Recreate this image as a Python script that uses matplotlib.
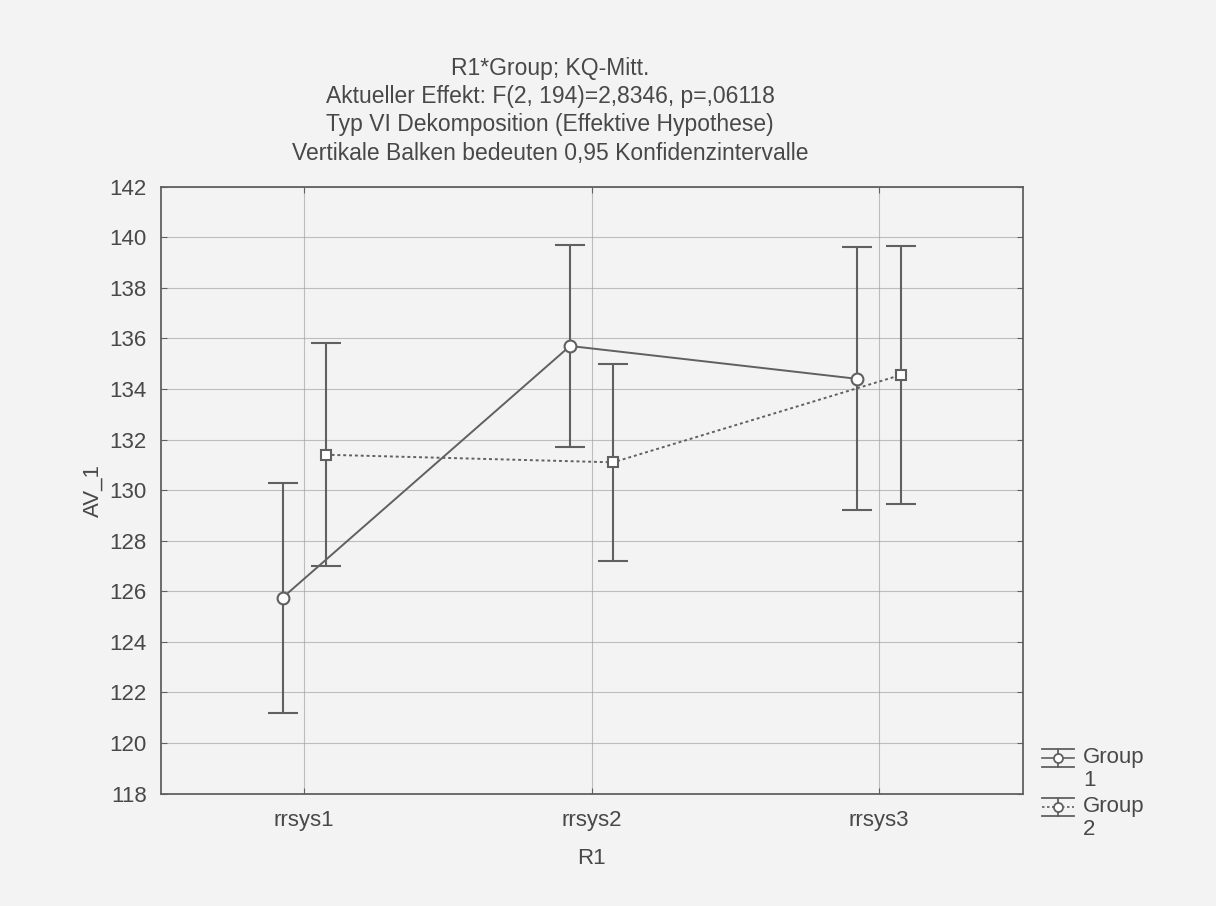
import matplotlib
matplotlib.use("Agg")
import matplotlib.pyplot as plt
from matplotlib.lines import Line2D
import numpy as np

plt.rcParams["font.family"] = ["Liberation Sans", "DejaVu Sans"]

# cell means and 0.95 confidence half-widths
categories = ["rrsys1", "rrsys2", "rrsys3"]
group1_mean = [125.75, 135.7, 134.4]
group1_ci = [4.55, 4.0, 5.2]
group2_mean = [131.4, 131.1, 134.55]
group2_ci = [4.4, 3.9, 5.1]
group_labels = ["Group\n1", "Group\n2"]

title_lines = [
    "R1*Group; KQ-Mitt.",
    "Aktueller Effekt: F(2, 194)=2,8346, p=,06118",
    "Typ VI Dekomposition (Effektive Hypothese)",
    "Vertikale Balken bedeuten 0,95 Konfidenzintervalle",
]

bg = "#f3f3f4"
ink = "#606060"
text_col = "#484848"
fs = 16

fig = plt.figure(figsize=(12.16, 9.06), dpi=100, facecolor=bg)
ax = fig.add_axes([0.132, 0.124, 0.709, 0.670], facecolor=bg)

x = np.arange(len(categories))
offset = 0.075
styles = [
    dict(mean=group1_mean, ci=group1_ci, dx=-offset, ls="-", marker="o", ms=8.5),
    dict(mean=group2_mean, ci=group2_ci, dx=offset, ls=(0, (1.5, 1.5)), marker="s", ms=7.5),
]
for st in styles:
    cont = ax.errorbar(x + st["dx"], st["mean"], yerr=st["ci"], color=ink, lw=1.4,
                       linestyle=st["ls"], marker=st["marker"], markersize=st["ms"],
                       mfc="white", mec=ink, mew=1.5, capsize=11, capthick=1.5,
                       elinewidth=1.5, zorder=3)
    cont[2][0].set_linestyle("-")

ax.set_xlim(-0.5, 2.5)
ax.set_ylim(118, 142)
ax.set_yticks(np.arange(118, 143, 2))
ax.set_xticks(x)
ax.set_xticklabels(categories)
ax.tick_params(axis="both", colors=text_col, labelsize=fs, length=4, direction="in",
               color=ink, top=True, right=True)
ax.tick_params(axis="x", pad=12)
ax.tick_params(axis="y", pad=10)
ax.grid(True, color="#9a9a9a", lw=0.8, alpha=0.6)
ax.set_axisbelow(True)
for s in ax.spines.values():
    s.set_color(ink)
    s.set_linewidth(1.3)

ax.set_xlabel("R1", fontsize=fs, color=text_col, labelpad=12)
ax.set_ylabel("AV_1", fontsize=fs, color=text_col, labelpad=4)

for i, line in enumerate(title_lines):
    fig.text(550 / 1216, 1 - (68 + 28.5 * i) / 906, line, ha="center", va="center",
             fontsize=16.5, color=text_col)

# legend: error-bar glyph beside a two-line label (pixel units, y down)
lax = fig.add_axes([1036 / 1216, 46 / 906, 170 / 1216, 120 / 906], facecolor="none")
lax.set_xlim(0, 170)
lax.set_ylim(120, 0)
lax.axis("off")
for i, st in enumerate(styles):
    yc = 18 + 49 * i
    for dy in (-9, 9):
        lax.add_line(Line2D([6, 38], [yc + dy, yc + dy], color=ink, lw=1.3))
    lax.add_line(Line2D([22, 22], [yc - 9, yc + 9], color=ink, lw=1.3))
    lax.add_line(Line2D([6, 38], [yc, yc], color=ink, lw=1.2, linestyle=st["ls"]))
    lax.add_line(Line2D([22], [yc], color=ink, marker="o", ms=6.5, mfc="white", mew=1.3))
    lax.text(47, yc - 11, group_labels[i], fontsize=fs, color=text_col, va="top",
             ha="left", linespacing=1.12)

fig.savefig("out.png", dpi=100, facecolor=bg)
